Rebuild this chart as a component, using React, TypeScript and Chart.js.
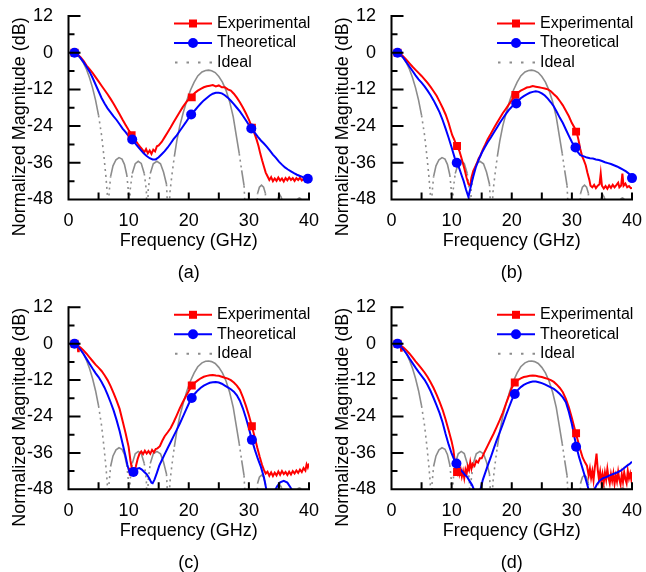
import React, { useEffect, useRef } from 'react';
import { Chart, registerables } from 'chart.js';

Chart.register(...registerables);

type P = [number, number][];

// ---------- shared ideal response (GHz, dB) ----------
const IDEAL: P = [
  [1, 0], [1.5, -0.6], [2, -1.8], [2.5, -3.4], [3, -5.5], [3.5, -8.2], [4, -11.5], [4.5, -15.5], [5, -20.5], [5.5, -27], [5.9, -34], [6.2, -40], [6.45, -46], [6.6, -60],
  [6.75, -46], [7.0, -40.5], [7.4, -37], [7.9, -35], [8.4, -34.3], [8.9, -34.8], [9.3, -36.5], [9.7, -40], [9.95, -45], [10.1, -60],
  [10.25, -45], [10.6, -39.5], [11.1, -36.3], [11.6, -35.5], [12.1, -36.2], [12.6, -39.5], [12.95, -45], [13.1, -60],
  [13.25, -45], [13.6, -39.5], [14.1, -36.3], [14.7, -35.5], [15.3, -36.3], [15.8, -39], [16.3, -43], [16.7, -60],
  [16.85, -46], [17.2, -40], [17.6, -34], [18.0, -29], [18.5, -24], [19.1, -19.5], [19.7, -15.5], [20.3, -12.2], [20.9, -9.6], [21.5, -7.6], [22.2, -6.3], [22.8, -5.8], [23.3, -5.7], [23.8, -5.9], [24.4, -6.5], [25, -7.8], [25.6, -9.6], [26.2, -12.3], [26.8, -16], [27.4, -21], [27.9, -27], [28.4, -33], [28.8, -38.5], [29.2, -43.5], [29.6, -60],
  [31.2, -60], [31.45, -46], [31.75, -44], [32.1, -43.3], [32.45, -44], [32.75, -46], [33, -60],
  [34.6, -60], [34.85, -47.5], [35.15, -46.5], [35.45, -47.5], [35.7, -60],
  [37.8, -60], [38.1, -47.8], [38.4, -47.5], [38.7, -47.8], [39, -60], [40, -60],
];

// ---------- panel (a) ----------
const EXP_A: P = [
  [1, 0], [1.5, -0.5], [2, -1.5], [2.5, -2.7], [3, -4.2], [3.5, -5.4], [4, -6.6], [4.5, -8], [5, -9.4], [5.5, -10.8], [6, -12.2], [6.5, -13.6], [7, -15.1], [7.5, -16.7], [8, -18.4], [8.5, -20.1], [9, -21.9], [9.5, -23.6], [10, -25.3], [10.5, -26.8], [11, -28.3], [11.5, -29.7], [12, -31], [12.3, -31.7], [12.6, -32.6], [12.9, -31.5], [13.2, -32.9], [13.5, -32], [13.8, -33.1], [14.1, -31.7], [14.4, -32.3], [14.7, -30.6], [15, -30.3], [15.5, -29.2], [16, -27.6], [16.5, -26], [17, -24.4], [17.5, -22.7], [18, -21], [18.5, -19.4], [19, -17.8], [19.5, -16.4], [20, -15.2], [20.5, -14.3], [21, -13.2], [21.5, -12.4], [22, -11.8], [22.5, -11.3], [23, -11], [23.5, -10.8], [24, -10.6], [24.5, -11], [25, -10.7], [25.5, -11.3], [26, -11.3], [26.5, -12], [27, -12.4], [27.5, -13.4], [28, -14.7], [28.5, -16.2], [29, -17.9], [29.5, -19.8], [30, -21.9], [30.5, -24.3], [31, -26.8], [31.3, -28.5], [31.6, -30.5], [31.9, -33], [32.2, -35.2], [32.5, -37.2], [32.8, -39.2], [33.1, -40.4], [33.4, -41.6], [33.7, -40.7], [34, -42], [34.3, -41.1], [34.6, -41.9], [34.9, -40.8], [35.2, -41.8], [35.5, -41.1], [35.8, -42.1], [36.1, -41], [36.4, -41.7], [36.7, -40.8], [37, -41.6], [37.3, -41], [37.6, -41.9], [37.9, -41], [38.2, -41.6], [38.5, -40.9], [38.8, -41.8], [39.1, -41.2], [39.4, -41.9], [39.7, -41.3], [40, -41.8],
];
const THEO_A: P = [
  [1, 0], [1.5, -0.7], [2, -1.8], [2.5, -3.1], [3, -4.6], [3.5, -6.2], [4, -8.2], [4.5, -10.4], [5, -12.6], [5.5, -14.8], [6, -16.6], [6.5, -18.2], [7, -19.5], [7.5, -20.8], [8, -22], [8.5, -23.4], [9, -24.8], [9.5, -26], [10, -27.3], [10.5, -28.3], [11, -29.4], [11.5, -30.6], [12, -31.8], [12.5, -32.9], [13, -33.8], [13.5, -34.5], [14, -34.9], [14.5, -34.9], [15, -34.2], [15.5, -33.2], [16, -32.2], [16.5, -31], [17, -29.6], [17.5, -28.2], [18, -27], [18.5, -25.6], [19, -24.2], [19.5, -22.8], [20, -21.3], [20.5, -20], [21, -18.9], [21.5, -17.7], [22, -16.6], [22.5, -15.6], [23, -14.8], [23.5, -14], [24, -13.4], [24.5, -13.1], [25, -13.1], [25.5, -13.3], [26, -13.9], [26.5, -14.7], [27, -15.7], [27.5, -16.8], [28, -18], [28.5, -19.2], [29, -20.6], [29.5, -22.1], [30, -23.6], [30.5, -25], [31, -26.2], [31.5, -27.5], [32, -28.7], [32.5, -29.7], [33, -30.8], [33.5, -32], [34, -33.3], [34.5, -34.4], [35, -35.6], [35.5, -36.6], [36, -37.5], [36.5, -38.2], [37, -38.8], [37.5, -39.4], [38, -39.9], [38.5, -40.3], [39, -40.7], [39.5, -41], [40, -41.3],
];
const EXP_MK_A: P = [[1, 0], [10.5, -27], [20.5, -14.6], [30.5, -24.5]];
const THEO_MK_A: P = [[1, 0], [10.6, -28.4], [20.4, -20.2], [30.4, -24.8], [39.8, -41.2]];

// ---------- panel (b) ----------
const EXP_B: P = [
  [1, 0], [1.5, -0.4], [2, -1.3], [2.5, -2.4], [3, -3.5], [3.5, -4.6], [4, -5.6], [4.5, -6.6], [5, -7.6], [5.5, -8.7], [6, -9.9], [6.5, -11.2], [7, -12.6], [7.5, -14.1], [8, -16], [8.5, -18], [9, -20.2], [9.5, -23], [9.8, -25], [10.1, -27], [10.4, -28.3], [10.7, -29.8], [11, -31], [11.3, -32.2], [11.6, -34.2], [11.9, -36.3], [12.2, -38.5], [12.5, -41], [12.8, -43], [13.1, -43.4], [13.3, -40.8], [13.6, -38.6], [13.9, -37.4], [14.2, -36.2], [14.5, -34.6], [14.8, -33.6], [15.2, -31.6], [15.6, -30], [16, -28.3], [16.5, -26.6], [17, -24.8], [17.5, -23.1], [18, -21.4], [18.5, -19.8], [19, -18.4], [19.5, -17], [20, -15.6], [20.5, -14.3], [21, -13.1], [21.5, -12.4], [22, -11.9], [22.5, -11.4], [23, -11.2], [23.5, -10.9], [24, -11.1], [24.5, -11.3], [25, -11.5], [25.5, -11.7], [26, -12], [26.5, -12.6], [27, -13.6], [27.5, -14.5], [28, -15.8], [28.5, -17.2], [29, -19], [29.5, -20.8], [30, -23], [30.4, -24.4], [30.8, -26], [31.1, -28.5], [31.4, -31.5], [31.7, -33.8], [32, -35.2], [32.3, -36.8], [32.6, -39.3], [32.9, -41.5], [33.1, -43.5], [33.4, -44], [33.7, -43.2], [34, -44.3], [34.3, -43.5], [34.6, -43], [34.8, -39.5], [35, -43.5], [35.3, -44.4], [35.6, -43.6], [35.9, -44.5], [36.2, -43.4], [36.5, -44.2], [36.8, -43.2], [37.1, -44], [37.4, -43.3], [37.7, -42.5], [37.9, -44], [38.2, -43.4], [38.4, -39.5], [38.6, -43.5], [38.9, -42.8], [39.2, -44], [39.5, -43.6], [39.8, -44.3], [40, -44.2],
];
const THEO_B: P = [
  [1, 0], [1.5, -0.7], [2, -1.8], [2.5, -3.2], [3, -4.6], [3.5, -6], [4, -7.4], [4.5, -8.7], [5, -9.8], [5.5, -11], [6, -12.4], [6.5, -13.9], [7, -15.6], [7.5, -17.5], [8, -19.5], [8.5, -22], [9, -24.8], [9.5, -27.8], [10, -31], [10.5, -34.3], [10.9, -36], [11.3, -38], [11.7, -40.3], [12, -42], [12.4, -44.8], [12.8, -47.2], [13.1, -44.5], [13.5, -41.2], [14, -37.6], [14.5, -35], [15, -32.8], [15.5, -31], [16, -29.3], [16.5, -27.8], [17, -26.2], [17.5, -24.6], [18, -23], [18.5, -21.5], [19, -20.1], [19.5, -18.8], [20, -17.7], [20.5, -16.9], [21, -15.9], [21.5, -14.9], [22, -14.2], [22.5, -13.6], [23, -13.1], [23.5, -12.8], [24, -12.6], [24.5, -12.8], [25, -13.3], [25.5, -14], [26, -15], [26.5, -16.2], [27, -17.6], [27.5, -19.4], [28, -21.3], [28.5, -23], [29, -25.1], [29.5, -27.2], [30, -29.2], [30.6, -31.2], [31, -32.5], [31.4, -33.5], [32, -33.9], [32.5, -34.3], [33, -34.5], [33.5, -34.6], [34, -34.9], [34.5, -35.1], [35, -35.4], [35.5, -35.8], [36, -36.1], [36.5, -36.4], [37, -36.8], [37.5, -37.2], [38, -37.7], [38.5, -38.2], [39, -38.8], [39.5, -39.6], [40, -40.8],
];
const EXP_MK_B: P = [[1, 0], [10.9, -30.5], [20.6, -13.8], [30.7, -25.8]];
const THEO_MK_B: P = [[1, 0], [10.85, -36], [20.75, -16.6], [30.6, -31], [40, -41]];

// ---------- panel (c) ----------
const EXP_C: P = [
  [1, 0], [1.5, -0.5], [1.6, -2.5], [1.7, -0.9], [2, -1.3], [2.5, -2.2], [3, -3.3], [3.5, -4.5], [4, -5.7], [4.5, -6.9], [5, -7.9], [5.5, -9], [6, -10.4], [6.5, -12], [7, -14], [7.5, -16.3], [8, -18.8], [8.5, -21.5], [9, -25.5], [9.5, -29.5], [10, -34], [10.3, -38.5], [10.6, -41.8], [10.9, -42.5], [11.2, -40.5], [11.5, -38], [11.8, -36.3], [12.1, -35.5], [12.4, -36.4], [12.7, -35.3], [13, -36.2], [13.3, -35.4], [13.6, -36.3], [13.9, -35], [14.2, -35.8], [14.5, -34.7], [14.8, -34.5], [15.2, -33.8], [15.6, -32], [16, -30.5], [16.5, -29.2], [17, -27.8], [17.5, -25.8], [18, -23.6], [18.5, -21.3], [19, -19.3], [19.5, -17.4], [20, -15.6], [20.5, -14], [21, -12.9], [21.5, -12.1], [22, -11.4], [22.5, -10.9], [23, -10.6], [23.5, -10.4], [24, -10.3], [24.5, -10.5], [25, -10.6], [25.5, -10.9], [26, -11.2], [26.5, -11.5], [27, -12], [27.5, -12.8], [28, -13.8], [28.5, -15.2], [29, -17.6], [29.5, -20.4], [30, -23.6], [30.5, -27.2], [31, -31], [31.4, -34.3], [31.8, -37.3], [32.2, -40], [32.5, -41.6], [32.8, -42.8], [33.1, -42.2], [33.4, -43.5], [33.7, -42.4], [34, -43.6], [34.3, -42.5], [34.6, -43.4], [34.9, -42.1], [35.2, -43.2], [35.5, -42], [35.8, -43], [36.1, -42.3], [36.4, -43.3], [36.7, -42.2], [37, -43.1], [37.3, -42], [37.6, -42.8], [37.9, -41.8], [38.2, -42.6], [38.5, -41.5], [38.8, -42.3], [39.1, -41], [39.4, -41.8], [39.6, -39.8], [39.8, -40.8], [40, -39.5],
];
const THEO_C: P = [
  [1, 0], [1.5, -0.8], [2, -2], [2.5, -3.4], [3, -5], [3.5, -6.6], [4, -8.2], [4.5, -9.7], [5, -11], [5.5, -12.6], [6, -14.5], [6.5, -16.8], [7, -19.3], [7.5, -22], [8, -25.2], [8.5, -28.8], [9, -33], [9.5, -37.2], [9.8, -40], [10.1, -42.2], [10.4, -43.2], [10.7, -42.8], [11, -42], [11.4, -41.2], [11.8, -41], [12.2, -41.5], [12.6, -42.3], [13, -43], [13.4, -44.3], [13.8, -45.8], [14, -46], [14.3, -44.8], [14.7, -42.6], [15.1, -40.2], [15.5, -38.5], [16, -36.4], [16.5, -34.4], [17, -32.4], [17.5, -30.4], [18, -28.4], [18.5, -26.4], [19, -24.2], [19.5, -22], [20, -19.8], [20.5, -17.9], [21, -16.5], [21.5, -15.4], [22, -14.5], [22.5, -13.8], [23, -13.3], [23.5, -12.9], [24, -12.7], [24.5, -12.6], [25, -12.8], [25.5, -13.2], [26, -13.8], [26.5, -14.4], [27, -15], [27.5, -15.8], [28, -17], [28.5, -18.8], [29, -21.3], [29.5, -24.4], [30, -27.9], [30.5, -31.7], [31, -35], [31.5, -38], [32, -40.6], [32.5, -44], [32.9, -48], [33.2, -52], [33.8, -52], [34.3, -48.5], [34.7, -47], [35.2, -45.7], [35.8, -45.2], [36.4, -45.8], [36.9, -47.3], [37.4, -49], [37.9, -53], [40, -53],
];
const EXP_MK_C: P = [[1, 0], [10.7, -42.2], [20.5, -13.8], [30.5, -27.2]];
const THEO_MK_C: P = [[1, 0], [10.8, -42.3], [20.5, -17.9], [30.5, -31.7]];

// ---------- panel (d) ----------
const EXP_D: P = [
  [1, 0], [1.5, -0.5], [1.6, -2.3], [1.7, -0.9], [2, -1.3], [2.5, -2.2], [3, -3.3], [3.5, -4.5], [4, -5.8], [4.5, -7], [5, -8.2], [5.5, -9.5], [6, -11], [6.5, -12.7], [7, -14.6], [7.5, -16.8], [8, -19.2], [8.5, -21.8], [9, -25], [9.5, -28.5], [10, -32.2], [10.3, -35], [10.5, -38.5], [10.7, -41], [10.9, -42.5], [11.1, -40.2], [11.3, -43], [11.5, -41.4], [11.7, -43.8], [11.9, -42], [12.1, -44.3], [12.3, -41.5], [12.5, -42.8], [12.7, -40.4], [12.9, -41.6], [13.1, -39], [13.3, -41.2], [13.5, -39.6], [13.8, -40.3], [14.1, -38.6], [14.4, -39.2], [14.7, -37.8], [15, -37.8], [15.5, -35.6], [16, -33.6], [16.5, -31.6], [17, -29.6], [17.5, -27.4], [18, -25.2], [18.5, -22.8], [19, -20], [19.5, -17.4], [20, -14.6], [20.5, -12.8], [21, -12], [21.5, -11.4], [22, -11], [22.5, -10.8], [23, -10.6], [23.5, -10.5], [24, -10.6], [24.5, -10.8], [25, -11], [25.5, -11.3], [26, -11.6], [26.5, -12], [27, -12.6], [27.5, -13.5], [28, -14.6], [28.5, -16], [29, -18.2], [29.5, -21], [30, -24.5], [30.5, -28.3], [31, -32], [31.4, -35], [31.8, -37.6], [32.2, -39.2], [32.5, -40.2], [32.8, -43.5], [33, -41.2], [33.2, -44.2], [33.4, -42], [33.6, -45], [33.8, -41], [34, -38], [34.1, -36.2], [34.3, -41.5], [34.5, -44.6], [34.7, -42.2], [34.9, -45.5], [35.1, -43], [35.3, -45.8], [35.5, -42.5], [35.7, -44.8], [35.9, -41.3], [36.1, -44.2], [36.3, -46], [36.5, -43], [36.7, -45.2], [36.9, -42.8], [37.1, -46.2], [37.3, -43.5], [37.5, -45.4], [37.7, -42.2], [37.9, -44.8], [38.1, -46.4], [38.3, -43.1], [38.5, -45.6], [38.7, -42.4], [38.9, -44.6], [39.1, -46], [39.3, -41.9], [39.5, -44.4], [39.7, -42.8], [39.9, -45], [40, -42.3],
];
const THEO_D: P = [
  [1, 0], [1.5, -0.8], [2, -2], [2.5, -3.3], [3, -4.9], [3.5, -6.4], [4, -7.9], [4.5, -9.3], [5, -10.6], [5.5, -11.9], [6, -13.6], [6.5, -15.6], [7, -17.9], [7.5, -20.3], [8, -22.9], [8.5, -26], [9, -29.8], [9.5, -33.2], [10, -36.2], [10.5, -38.6], [10.8, -39.5], [11.2, -40.6], [11.7, -42], [12.2, -43.2], [12.6, -44], [13, -45.3], [13.4, -46.6], [13.8, -48.5], [14.1, -51], [14.5, -51], [14.8, -48], [15.2, -44.8], [15.6, -42.5], [16, -40.2], [16.5, -37.5], [17, -34.6], [17.5, -31.8], [18, -29.2], [18.5, -26.6], [19, -23.8], [19.5, -21.2], [20, -18.6], [20.5, -16.6], [21, -15.3], [21.5, -14.3], [22, -13.6], [22.5, -13.1], [23, -12.7], [23.5, -12.5], [24, -12.5], [24.5, -12.7], [25, -13], [25.5, -13.4], [26, -13.9], [26.5, -14.4], [27, -14.9], [27.5, -15.7], [28, -16.6], [28.5, -17.7], [29, -19.3], [29.5, -22.5], [30, -26.5], [30.5, -31.5], [30.8, -34.3], [31.2, -37.4], [31.6, -40], [32, -42.6], [32.4, -45.3], [32.8, -48.2], [33.1, -51], [33.5, -51], [33.8, -47.8], [34.2, -46.3], [34.7, -45], [35.2, -44.3], [35.7, -44], [36.2, -43.5], [36.7, -43.1], [37.2, -42.7], [37.7, -42.3], [38.2, -41.8], [38.7, -41], [39.2, -40.2], [39.7, -39.5], [40, -38.9],
];
const EXP_MK_D: P = [[1, 0], [10.9, -42.3], [20.5, -12.8], [30.7, -29.5]];
const THEO_MK_D: P = [[1, 0], [10.8, -39.5], [20.5, -16.6], [30.7, -34]];

// ---------- axes & labels ----------
const X_MIN = 0, X_MAX = 40, X_STEP = 10, X_MINOR = 5;
const Y_MIN = -48, Y_MAX = 12, Y_STEP = 12, Y_MINOR = 6;
const X_TITLE = 'Frequency (GHz)';
const Y_TITLE = 'Normalized Magnitude (dB)';
const LEGEND_LABELS = ['Experimental', 'Theoretical', 'Ideal'];
const CAPTIONS = ['(a)', '(b)', '(c)', '(d)'];

const FONT = "'Liberation Sans', Arial, Helvetica, sans-serif";
const RED = '#ff0000';
const BLUE = '#0000ff';
const GRAY = '#8c8c8c';

const PANELS = [
  { exp: EXP_A, theo: THEO_A, expM: EXP_MK_A, theoM: THEO_MK_A, caption: CAPTIONS[0], left: 0, top: 0, h: 290, areaTop: 16, areaBottom: 199.5 },
  { exp: EXP_B, theo: THEO_B, expM: EXP_MK_B, theoM: THEO_MK_B, caption: CAPTIONS[1], left: 323, top: 0, h: 290, areaTop: 16, areaBottom: 199.5 },
  { exp: EXP_C, theo: THEO_C, expM: EXP_MK_C, theoM: THEO_MK_C, caption: CAPTIONS[2], left: 0, top: 290, h: 282, areaTop: 17.3, areaBottom: 199.3 },
  { exp: EXP_D, theo: THEO_D, expM: EXP_MK_D, theoM: THEO_MK_D, caption: CAPTIONS[3], left: 323, top: 290, h: 282, areaTop: 17.3, areaBottom: 199.3 },
];

const toXY = (p: P) => p.map(([x, y]) => ({ x, y }));

const decoPlugin = {
  id: 'panelDeco',
  afterDraw(chart: any, _args: any, opts: any) {
    const { ctx, chartArea: ca, scales } = chart;
    const xs = scales.x;
    const ys = scales.y;
    ctx.save();
    ctx.strokeStyle = '#000';
    ctx.lineWidth = 2;
    ctx.lineCap = 'butt';
    // axis lines
    ctx.beginPath();
    ctx.moveTo(ca.left, ca.top - 1);
    ctx.lineTo(ca.left, ca.bottom);
    ctx.lineTo(ca.right + 1, ca.bottom);
    ctx.stroke();
    // inward ticks
    ctx.beginPath();
    for (let v = Y_MIN + Y_MINOR; v <= Y_MAX; v += Y_MINOR) {
      const y = ys.getPixelForValue(v);
      const len = v % Y_STEP === 0 ? 12 : 6;
      ctx.moveTo(ca.left, y);
      ctx.lineTo(ca.left + len, y);
    }
    for (let v = X_MIN + X_MINOR; v <= X_MAX; v += X_MINOR) {
      const x = xs.getPixelForValue(v);
      ctx.moveTo(x, ca.bottom);
      ctx.lineTo(x, ca.bottom - 7);
    }
    ctx.stroke();

    // titles
    ctx.fillStyle = '#000';
    ctx.font = `18px ${FONT}`;
    ctx.textAlign = 'center';
    ctx.textBaseline = 'middle';
    const cx = (ca.left + ca.right) / 2;
    ctx.fillText(X_TITLE, cx, ca.bottom + 42);
    ctx.fillText(opts.caption, cx, ca.bottom + 73.5);
    ctx.save();
    ctx.translate(20, (ca.top + ca.bottom) / 2 + 19);
    ctx.rotate(-Math.PI / 2);
    ctx.fillText(Y_TITLE, 0, 0);
    ctx.restore();

    // legend
    const rows = [7.5, 27, 46.5];
    const x0 = ca.left + 105.5;
    const x1 = ca.left + 143.5;
    const xm = (x0 + x1) / 2;
    ctx.font = `16px ${FONT}`;
    ctx.textAlign = 'left';
    LEGEND_LABELS.forEach((label, i) => {
      const y = ca.top + rows[i];
      ctx.save();
      if (i === 0 || i === 1) {
        ctx.strokeStyle = i === 0 ? RED : BLUE;
        ctx.fillStyle = i === 0 ? RED : BLUE;
        ctx.lineWidth = 2;
        ctx.beginPath();
        ctx.moveTo(x0, y);
        ctx.lineTo(x1, y);
        ctx.stroke();
        ctx.beginPath();
        if (i === 0) ctx.rect(xm - 4, y - 4, 8, 8);
        else ctx.arc(xm, y, 5, 0, Math.PI * 2);
        ctx.fill();
      } else {
        ctx.strokeStyle = GRAY;
        ctx.lineWidth = 2;
        ctx.setLineDash([2.5, 9]);
        ctx.beginPath();
        ctx.moveTo(x0 + 1, y);
        ctx.lineTo(x1 + 4, y);
        ctx.stroke();
      }
      ctx.restore();
      ctx.fillStyle = '#000';
      ctx.fillText(label, ca.left + 148.5, y);
    });
    ctx.restore();
  },
};

function Panel(props: { cfg: (typeof PANELS)[number] }) {
  const { cfg } = props;
  const ref = useRef<HTMLCanvasElement>(null);
  useEffect(() => {
    if (!ref.current) return;
    const steep = (c: any) => {
      const dx = Math.abs(c.p1.x - c.p0.x);
      const dy = Math.abs(c.p1.y - c.p0.y);
      return dy > 6.5 * Math.max(dx, 0.01);
    };
    const chart = new Chart(ref.current, {
      type: 'line',
      data: {
        datasets: [
          {
            label: 'Theoretical markers',
            data: toXY(cfg.theoM),
            showLine: false,
            pointStyle: 'circle',
            pointRadius: 5,
            pointBackgroundColor: BLUE,
            pointBorderWidth: 0,
            borderColor: BLUE,
            clip: 10,
          },
          {
            label: 'Experimental markers',
            data: toXY(cfg.expM),
            showLine: false,
            pointStyle: 'rect',
            pointRadius: 5.6,
            pointBackgroundColor: RED,
            pointBorderWidth: 0,
            borderColor: RED,
            clip: 10,
          },
          {
            label: LEGEND_LABELS[1],
            data: toXY(cfg.theo),
            borderColor: BLUE,
            borderWidth: 2,
            pointRadius: 0,
            clip: 0,
          },
          {
            label: LEGEND_LABELS[0],
            data: toXY(cfg.exp),
            borderColor: RED,
            borderWidth: 2,
            pointRadius: 0,
            clip: 0,
          },
          {
            label: LEGEND_LABELS[2],
            data: toXY(IDEAL),
            borderColor: GRAY,
            borderWidth: 1.6,
            pointRadius: 0,
            clip: 0,
            segment: {
              borderDash: (c: any) => (steep(c) ? [2, 4] : []),
            },
          },
        ],
      },
      options: {
        animation: false,
        responsive: false,
        devicePixelRatio: 1,
        events: [],
        layout: { padding: { left: 0, right: 14, top: cfg.areaTop, bottom: 0 } },
        plugins: {
          legend: { display: false },
          tooltip: { enabled: false },
          title: { display: false },
          panelDeco: { caption: cfg.caption },
        } as any,
        elements: { line: { tension: 0 } },
        scales: {
          x: {
            type: 'linear',
            min: X_MIN,
            max: X_MAX,
            afterFit: (s: any) => {
              s.height = cfg.h - cfg.areaBottom;
              s.paddingLeft = 0;
              s.paddingRight = 0;
              s.paddingTop = 0;
              s.paddingBottom = 0;
            },
            ticks: { stepSize: X_STEP, color: '#000', font: { family: FONT, size: 18 }, padding: 11, maxRotation: 0 },
            grid: { display: false, drawTicks: false },
            border: { display: false },
          },
          y: {
            type: 'linear',
            min: Y_MIN,
            max: Y_MAX,
            afterFit: (s: any) => {
              s.width = 68.5;
              s.paddingLeft = 0;
              s.paddingRight = 0;
              s.paddingTop = 0;
              s.paddingBottom = 0;
            },
            ticks: { stepSize: Y_STEP, color: '#000', font: { family: FONT, size: 18 }, padding: 15.5 },
            grid: { display: false, drawTicks: false },
            border: { display: false },
          },
        },
      },
      plugins: [decoPlugin],
    });
    return () => chart.destroy();
  }, [cfg]);
  return (
    <canvas
      ref={ref}
      width={323}
      height={cfg.h}
      style={{ position: 'absolute', left: cfg.left, top: cfg.top, width: 323, height: cfg.h, display: 'block' }}
    />
  );
}

export default function App() {
  return (
    <div style={{ position: 'absolute', left: 0, top: 0, width: 646, height: 572, background: '#fff', overflow: 'hidden' }}>
      {PANELS.map((p) => (
        <Panel key={p.caption} cfg={p} />
      ))}
    </div>
  );
}
